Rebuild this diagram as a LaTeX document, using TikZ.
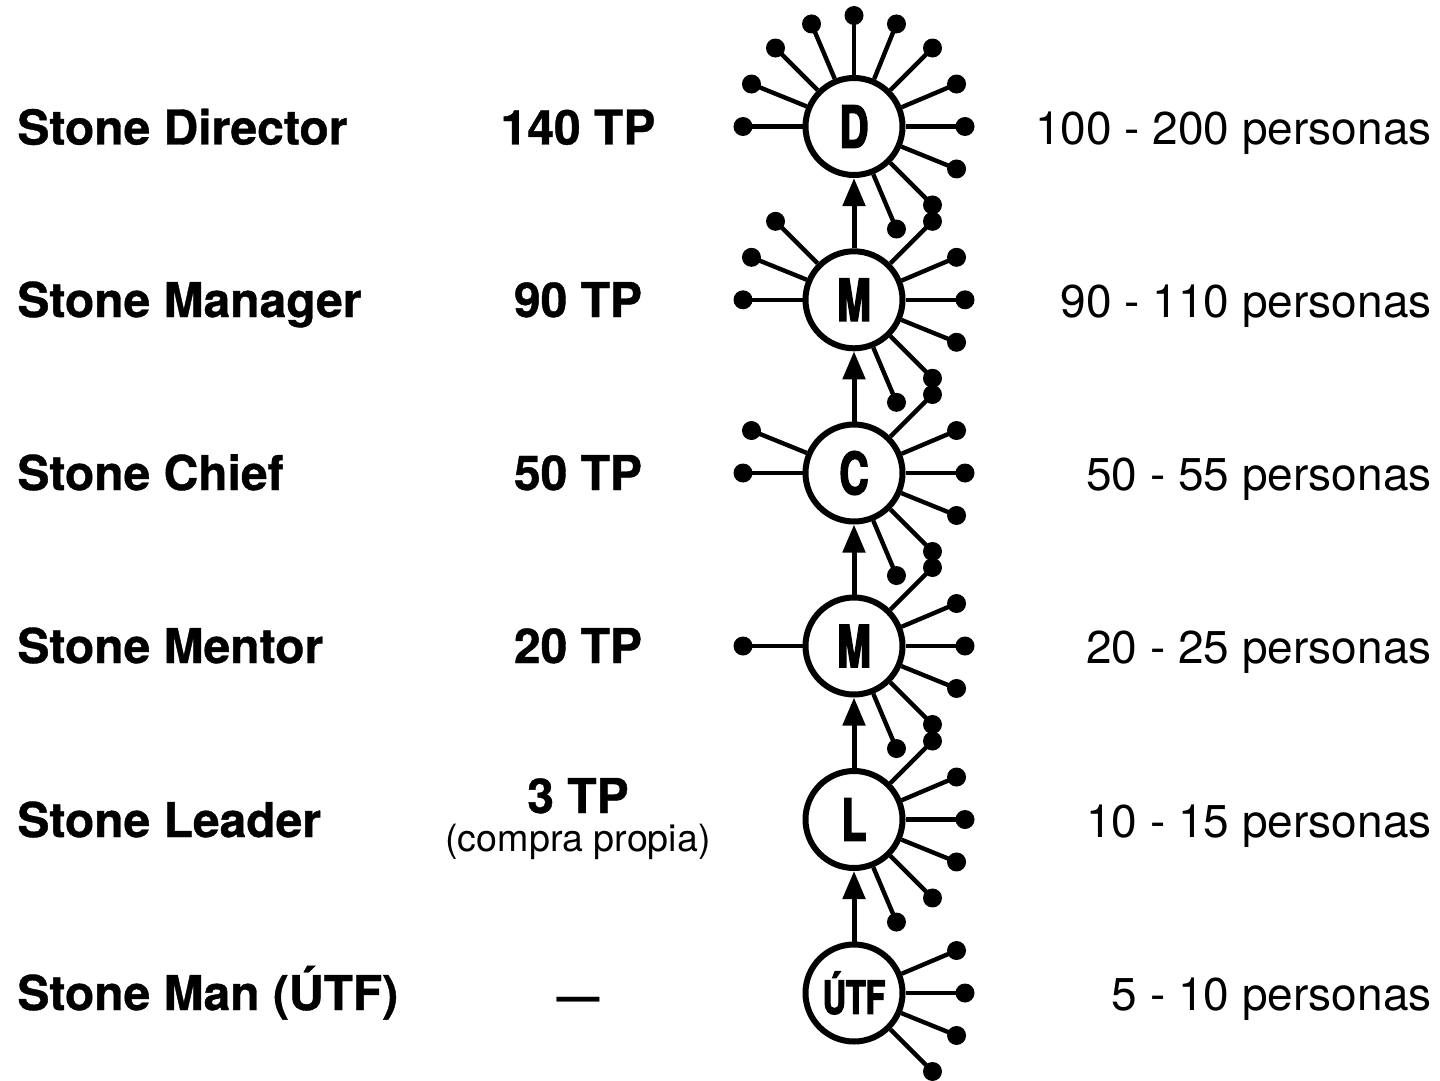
\documentclass[tikz,border=0pt]{standalone}
\usepackage{fontspec}
\setmainfont{TeX Gyre Heros}[BoldFeatures={FakeBold=0.8}]
\newfontfamily\condfont{TeX Gyre Heros}[FakeStretch=0.7, BoldFeatures={FakeBold=2.5}]
\usetikzlibrary{arrows.meta, positioning}

\begin{document}
\begin{tikzpicture}[
    x=0.5pt, y=-0.5pt,
    % Node styles
    level/.style={
        circle,
        draw=black,
        fill=white,
        line width=3pt,
        minimum size=48.5pt,
        inner sep=0pt,
        font = \condfont\bfseries\fontsize{29}{29}\selectfont
    },
    role/.style={
        anchor=base west,
        inner sep=0pt,
        font = \bfseries\fontsize{24}{28}\selectfont
    },
    score/.style={
        anchor=base,
        inner sep=0pt,
        font = \bfseries\fontsize{24}{28}\selectfont
    },
    team/.style={
        anchor=base east,
        inner sep=0pt,
        font = \fontsize{23}{28}\selectfont
    },
    spoke/.style={
        line width=2.2pt
    },
    bead/.style={
        circle,
        fill=black,
        inner sep=0pt,
        minimum size=9.5pt
    },
    arrow/.style={
        -{Triangle[length=14pt, width=11pt]},
        line width=2.5pt
    }
]
\useasboundingbox (0,0) rectangle (1440,1081);

% Position nodes
\node[level] (director) at (854,126.5) {D};
\node[level] (manager) at (854,299.8) {M};
\node[level] (chief) at (854,473) {C};
\node[level] (mentor) at (854,646) {M};
\node[level] (leader) at (854,819.5) {L};
\node[level, font=\condfont\bfseries\fontsize{23}{23}\selectfont] (utf) at (854,993) {ÚTF};

% Spokes
\foreach \a in {0,22.5,45,67.5,90,112.5,135,157.5,180,292.5,315,337.5}
    \draw[spoke] (director.\a) -- ([shift={(\a:55.5pt)}]director.center) node[bead] {};
\foreach \a in {0,22.5,45,135,157.5,180,292.5,315,337.5}
    \draw[spoke] (manager.\a) -- ([shift={(\a:55.5pt)}]manager.center) node[bead] {};
\foreach \a in {0,22.5,45,157.5,180,292.5,315,337.5}
    \draw[spoke] (chief.\a) -- ([shift={(\a:55.5pt)}]chief.center) node[bead] {};
\foreach \a in {0,22.5,45,180,292.5,315,337.5}
    \draw[spoke] (mentor.\a) -- ([shift={(\a:55.5pt)}]mentor.center) node[bead] {};
\foreach \a in {0,22.5,45,292.5,315,337.5}
    \draw[spoke] (leader.\a) -- ([shift={(\a:55.5pt)}]leader.center) node[bead] {};
\foreach \a in {0,22.5,315,337.5}
    \draw[spoke] (utf.\a) -- ([shift={(\a:55.5pt)}]utf.center) node[bead] {};

% Arrows
\draw[arrow] (manager.north) -- (director.south);
\draw[arrow] (chief.north) -- (manager.south);
\draw[arrow] (mentor.north) -- (chief.south);
\draw[arrow] (leader.north) -- (mentor.south);
\draw[arrow] (utf.north) -- (leader.south);

% Labels
\node[role] (r1) at (17,144.5) {Stone Director};
\node[role] (r2) at (17,317) {Stone Manager};
\node[role] (r3) at (17,490) {Stone Chief};
\node[role] (r4) at (17,663) {Stone Mentor};
\node[role] (r5) at (17,837) {Stone Leader};
\node[role] (r6) at (17,1010) {Stone Man (ÚTF)};

\node[score] (s1) at (578,144.5) {140 TP};
\node[score] (s2) at (578,317) {90 TP};
\node[score] (s3) at (578,490) {50 TP};
\node[score] (s4) at (578,663) {20 TP};
\node[score] (s5) at (578,813) {3 TP};
\node[score, font=\fontsize{18.8}{20}\selectfont] (s5b) at (578,851) {(compra propia)};
\node[score, font=\bfseries\fontsize{21}{22}\selectfont] (s6) at (578,1010) {—};

\node[team] (t1) at (1432,144.5) {100 - 200 personas};
\node[team] (t2) at (1432,317) {90 - 110 personas};
\node[team] (t3) at (1432,490) {50 - 55 personas};
\node[team] (t4) at (1432,663) {20 - 25 personas};
\node[team] (t5) at (1432,837) {10 - 15 personas};
\node[team] (t6) at (1432,1010) {5 - 10 personas};

\end{tikzpicture}
\end{document}
